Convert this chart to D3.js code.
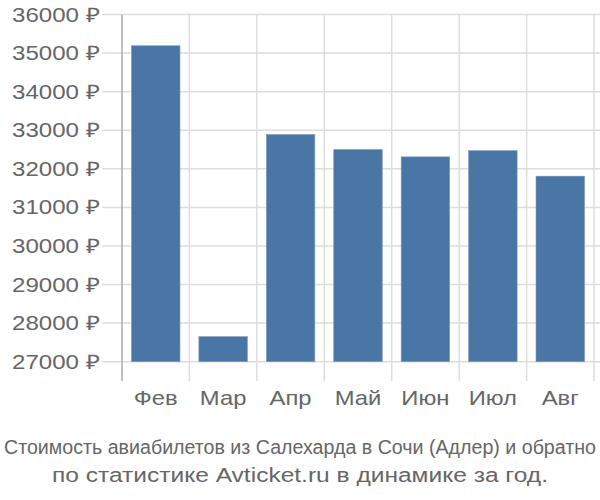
<!DOCTYPE html>
<html><head><meta charset="utf-8">
<script src="https://cdn.jsdelivr.net/npm/d3@7"></script>
<style>body{margin:0;background:#fff}svg{display:block}</style>
</head><body>
<svg id="c" width="600" height="500"></svg>
<script>
const categories = ["Фев","Мар","Апр","Май","Июн","Июл","Авг"];
const values = [35190, 27650, 32890, 32500, 32310, 32470, 31810];
const yTicks = [27000,28000,29000,30000,31000,32000,33000,34000,35000,36000];
const titleLines = ["Стоимость авиабилетов из Салехарда в Сочи (Адлер) и обратно","по статистике Avticket.ru в динамике за год."];

const svg = d3.select("#c");
const x = d3.scaleBand().domain(categories).range([122, 594]).paddingInner(0.28).paddingOuter(0.14);
const y = d3.scaleLinear().domain([27000, 36000]).range([361.7, 14.5]);
const font = "'Liberation Sans', Arial, sans-serif";
const grid = "#dddddd";

function stretch(sel, factor) {
  sel.each(function() {
    const w = this.getComputedTextLength();
    d3.select(this).attr("textLength", w * factor).attr("lengthAdjust", "spacingAndGlyphs");
  });
}

svg.append("g").selectAll("line").data(yTicks).join("line")
  .attr("x1", 102).attr("x2", 600)
  .attr("y1", d => y(d)).attr("y2", d => y(d))
  .attr("stroke", grid).attr("stroke-width", 1.5);

const bounds = categories.map((c, i) => x(c) - x.step() * x.paddingInner() / 2);
bounds[0] = 122;
bounds.push(594);
svg.append("g").selectAll("line").data(bounds.slice(1)).join("line")
  .attr("x1", d => d).attr("x2", d => d)
  .attr("y1", 14.5).attr("y2", 381)
  .attr("stroke", grid).attr("stroke-width", 1.5);

svg.append("line").attr("x1", 122).attr("x2", 122).attr("y1", 14.5).attr("y2", 381)
  .attr("stroke", "#aaaaaa").attr("stroke-width", 1.5);

const yl = svg.append("g").selectAll("text").data(yTicks).join("text")
  .attr("x", 100).attr("y", d => y(d) + 7)
  .attr("text-anchor", "end").attr("font-family", font).attr("font-size", 20)
  .attr("fill", "#666").text(d => d + " ₽");
const yw = yl.node().getComputedTextLength();
stretch(yl, 88 / yw);

svg.append("g").selectAll("rect").data(values).join("rect")
  .attr("x", (d, i) => x(categories[i])).attr("width", x.bandwidth())
  .attr("y", d => y(d)).attr("height", d => y(27000) - y(d))
  .attr("fill", "#4a76a6").attr("stroke", "#7c9cc2").attr("stroke-width", 0.6);

const xl = svg.append("g").selectAll("text").data(categories).join("text")
  .attr("x", d => x(d) + x.bandwidth() / 2).attr("y", 405)
  .attr("text-anchor", "middle").attr("font-family", font).attr("font-size", 21)
  .attr("fill", "#666").text(d => d);
const xw = xl.node().getComputedTextLength();
stretch(xl, 44 / xw);

svg.append("text").attr("x", 300).attr("y", 454).attr("text-anchor", "middle")
  .attr("font-family", font).attr("font-size", 19.5).attr("fill", "#666")
  .attr("textLength", 592).attr("lengthAdjust", "spacingAndGlyphs").text(titleLines[0]);
svg.append("text").attr("x", 300).attr("y", 482).attr("text-anchor", "middle")
  .attr("font-family", font).attr("font-size", 20).attr("fill", "#666")
  .attr("textLength", 496).attr("lengthAdjust", "spacingAndGlyphs").text(titleLines[1]);
</script>
</body></html>
